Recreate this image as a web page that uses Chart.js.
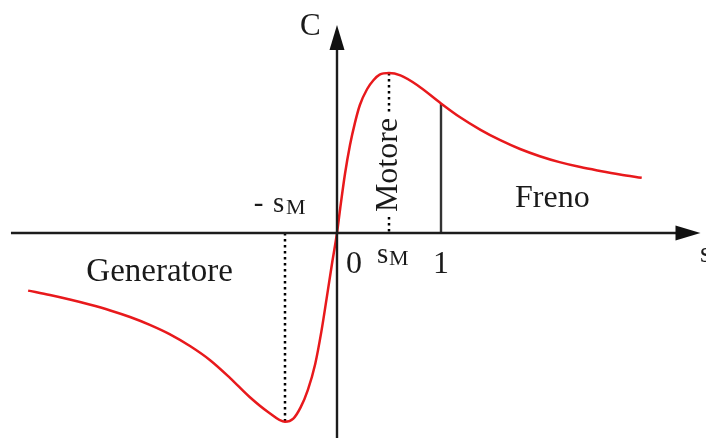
<!DOCTYPE html>
<html>
<head>
<meta charset="utf-8">
<script src="https://cdn.jsdelivr.net/npm/chart.js@4/dist/chart.umd.min.js"></script>
<style>
  html, body { margin: 0; padding: 0; background: #ffffff; }
  canvas { display: block; }
</style>
</head>
<body>
<canvas id="chart" width="706" height="438"></canvas>
<script>
// Torque–slip characteristic of an induction machine
const slip = [
  -2.97, -2.76, -2.57, -2.38, -2.18, -1.99, -1.80, -1.61, -1.41, -1.22, -1.03,
  -0.84, -0.66, -0.50, -0.42, -0.35, -0.28, -0.21, -0.15, -0.10, -0.05, 0,
  0.03, 0.077, 0.125, 0.173, 0.22, 0.29, 0.35, 0.41, 0.50, 0.61, 0.77, 1.0,
  1.18, 1.38, 1.57, 1.76, 1.95, 2.14, 2.34, 2.53, 2.72, 2.93
];
const torque = [
  -0.36, -0.388, -0.416, -0.447, -0.484, -0.525, -0.574, -0.632, -0.708, -0.795, -0.905,
  -1.025, -1.12, -1.18, -1.16, -1.09, -0.98, -0.82, -0.615, -0.41, -0.20, 0,
  0.15, 0.37, 0.55, 0.69, 0.80, 0.90, 0.955, 0.99, 1.0, 0.985, 0.925, 0.81,
  0.725, 0.645, 0.58, 0.525, 0.48, 0.443, 0.412, 0.388, 0.366, 0.345
];
// Slip of maximum torque and the standstill slip
const sMax = 0.5;
const sStop = 1.0;
const regionLabels = ['Generatore', 'Motore', 'Freno'];

const points = slip.map((s, i) => ({ x: s, y: torque[i] }));
const torqueAt = s => torque[slip.indexOf(s)];
const minTorque = Math.min(...torque);

const FONT = '"Liberation Serif", "Times New Roman", serif';
const INK = '#1a1a1a';

function text(ctx, str, x, y, size, align) {
  ctx.font = size + 'px ' + FONT;
  ctx.textAlign = align || 'left';
  ctx.textBaseline = 'alphabetic';
  ctx.fillText(str, x, y);
}

const axesPlugin = {
  id: 'slipAxes',
  beforeDatasetsDraw(chart) {
    const { ctx, scales: { x, y } } = chart;
    ctx.save();
    // dotted guides at ±sM
    ctx.strokeStyle = '#000';
    ctx.lineWidth = 2.5;
    ctx.setLineDash([2.5, 3.5]);
    ctx.beginPath();
    ctx.moveTo(x.getPixelForValue(sMax), y.getPixelForValue(1.0));
    ctx.lineTo(x.getPixelForValue(sMax), y.getPixelForValue(0));
    ctx.moveTo(x.getPixelForValue(-sMax), y.getPixelForValue(0));
    ctx.lineTo(x.getPixelForValue(-sMax), y.getPixelForValue(minTorque));
    ctx.stroke();
    ctx.setLineDash([]);
    // solid line at s = 1
    ctx.strokeStyle = '#333';
    ctx.lineWidth = 2.4;
    ctx.beginPath();
    ctx.moveTo(x.getPixelForValue(sStop), y.getPixelForValue(torqueAt(sStop)));
    ctx.lineTo(x.getPixelForValue(sStop), y.getPixelForValue(0));
    ctx.stroke();
    ctx.restore();
  },
  afterDatasetsDraw(chart) {
    const { ctx, scales: { x, y } } = chart;
    const x0 = x.getPixelForValue(0);
    const y0 = y.getPixelForValue(0);
    ctx.save();
    ctx.strokeStyle = '#1c1c1c';
    ctx.fillStyle = '#111';
    ctx.lineWidth = 2.4;
    // horizontal axis with arrow
    const xStart = x.getPixelForValue(-3.135);
    const xTip = x.getPixelForValue(3.495);
    ctx.beginPath();
    ctx.moveTo(xStart, y0);
    ctx.lineTo(xTip - 24, y0);
    ctx.stroke();
    ctx.beginPath();
    ctx.moveTo(xTip, y0);
    ctx.lineTo(xTip - 25, y0 - 7.5);
    ctx.lineTo(xTip - 25, y0 + 7.5);
    ctx.closePath();
    ctx.fill();
    // vertical axis with arrow
    const yTip = y.getPixelForValue(1.3);
    ctx.beginPath();
    ctx.moveTo(x0, chart.height);
    ctx.lineTo(x0, yTip + 24);
    ctx.stroke();
    ctx.beginPath();
    ctx.moveTo(x0, yTip);
    ctx.lineTo(x0 - 7.5, yTip + 25);
    ctx.lineTo(x0 + 7.5, yTip + 25);
    ctx.closePath();
    ctx.fill();

    // labels
    ctx.fillStyle = INK;
    const px = v => x.getPixelForValue(v);
    const py = v => y.getPixelForValue(v);
    text(ctx, 'C', px(-0.356), py(1.2375), 31);
    text(ctx, 's', px(3.49), py(-0.18), 29);
    text(ctx, regionLabels[0], px(-2.41), py(-0.30), 33);
    text(ctx, regionLabels[2], px(1.712), py(0.1625), 32);
    text(ctx, '0', px(0.163), py(-0.25), 32, 'center');
    text(ctx, '1', px(sStop), py(-0.25), 32, 'center');
    // sM under the axis
    text(ctx, 's', px(0.385), py(-0.19), 29);
    text(ctx, 'M', px(0.5), py(-0.2), 22);
    // -sM above the axis
    text(ctx, '-', px(-0.8), py(0.13), 29);
    text(ctx, 's', px(-0.615), py(0.13), 29);
    text(ctx, 'M', px(-0.49), py(0.12), 22);

    // rotated region label over the sM guide
    ctx.save();
    ctx.translate(px(0.58), py(0.425));
    ctx.rotate(-Math.PI / 2);
    ctx.font = '32px ' + FONT;
    const w = ctx.measureText(regionLabels[1]).width;
    ctx.fillStyle = '#ffffff';
    ctx.fillRect(-w / 2 - 3, -25, w + 6, 31);
    ctx.fillStyle = INK;
    text(ctx, regionLabels[1], 0, 0, 32, 'center');
    ctx.restore();
    ctx.restore();
  }
};

new Chart(document.getElementById('chart'), {
  type: 'scatter',
  data: {
    datasets: [{
      data: points,
      showLine: true,
      borderColor: '#e8191c',
      borderWidth: 2.5,
      pointRadius: 0,
      cubicInterpolationMode: 'monotone',
      fill: false
    }]
  },
  options: {
    responsive: false,
    animation: false,
    layout: { padding: 0 },
    plugins: { legend: { display: false }, tooltip: { enabled: false } },
    scales: {
      x: { type: 'linear', display: false, min: -337 / 104, max: 369 / 104 },
      y: { type: 'linear', display: false, min: -205 / 160, max: 233 / 160 }
    }
  },
  plugins: [axesPlugin]
});
</script>
</body>
</html>
